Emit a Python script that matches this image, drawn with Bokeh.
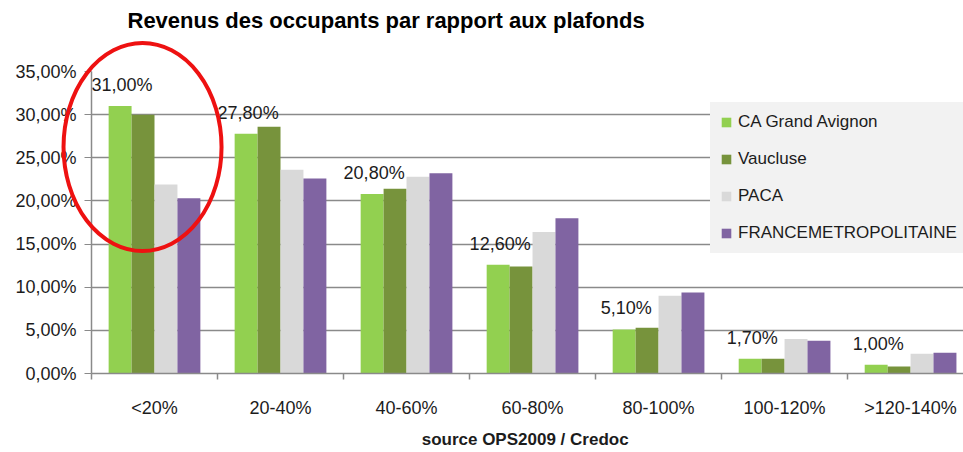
from bokeh.plotting import figure
from bokeh.models import (FixedTicker, Range1d, Legend, LegendItem, Title,
                          ColumnDataSource)
from bokeh.core.properties import value
from bokeh.embed import file_html
from bokeh.resources import INLINE

# ---- data ----
categories = ["<20%", "20-40%", "40-60%", "60-80%", "80-100%", "100-120%", ">120-140%"]
series_names = ["CA Grand Avignon", "Vaucluse", "PACA", "FRANCEMETROPOLITAINE"]
ca_grand_avignon = [31.0, 27.8, 20.8, 12.6, 5.1, 1.7, 1.0]
vaucluse = [30.0, 28.6, 21.4, 12.4, 5.3, 1.7, 0.8]
paca = [21.9, 23.6, 22.8, 16.4, 9.0, 4.0, 2.3]
france_metro = [20.3, 22.6, 23.2, 18.0, 9.4, 3.8, 2.4]
y_ticks = [0, 5, 10, 15, 20, 25, 30, 35]
y_tick_labels = ["0,00%", "5,00%", "10,00%", "15,00%", "20,00%", "25,00%", "30,00%", "35,00%"]
series_values = [ca_grand_avignon, vaucluse, paca, france_metro]
title_text = "Revenus des occupants par rapport aux plafonds"
source_text = "source OPS2009 /  Credoc"

# ---- style ----
colors = ["#92d050", "#77933c", "#d9d9d9", "#8064a2"]
offsets = [-0.273, -0.091, 0.091, 0.273]
bar_w = 0.182
FONT = "'Liberation Sans', Arial, sans-serif"
TXT = "#1c1c1c"
GRID = "#8a8a8a"

n = len(categories)
centers = [i + 0.5 for i in range(n)]
bounds = list(range(n + 1))

p = figure(width=963, height=452, output_backend="svg", toolbar_location=None,
           title=None,
           x_range=Range1d(0, 6.92), y_range=Range1d(0, 35),
           min_border_left=91, min_border_right=0, min_border_top=71,
           min_border_bottom=79)
p.outline_line_color = None
p.background_fill_color = "white"
p.border_fill_color = "white"

# title: spacer (nearest the frame) then the real title above it
p.add_layout(Title(text=" ", text_font=FONT, text_font_size="24px", standoff=10), "above")
p.add_layout(Title(text=title_text, text_font=FONT, text_font_size="22px",
                   text_font_style="bold", text_color="#000000",
                   align="left", offset=36, standoff=0), "above")

renderers = []
for vals, off, col in zip(series_values, offsets, colors):
    xs = [c + off for c in centers]
    r = p.vbar(x=xs, top=vals, width=bar_w, bottom=0, fill_color=col, line_color=None)
    renderers.append(r)

# value labels above first series
lab_src = ColumnDataSource(dict(
    x=[c + offsets[0] for c in centers],
    y=ca_grand_avignon,
    t=[("%.2f%%" % v).replace(".", ",") for v in ca_grand_avignon]))
p.text(x="x", y="y", text="t", source=lab_src, text_align="center",
       text_baseline="middle", x_offset=2, y_offset=-21,
       text_font=value(FONT), text_font_size="18px", text_color=TXT)

# axes
p.yaxis.ticker = FixedTicker(ticks=y_ticks)
p.yaxis.major_label_overrides = {t: l for t, l in zip(y_ticks, y_tick_labels)}
p.yaxis.major_label_text_font = FONT
p.yaxis.major_label_text_font_size = "18px"
p.yaxis.major_label_text_color = TXT
p.yaxis.major_tick_out = 7
p.yaxis.major_tick_in = 0
p.yaxis.minor_tick_out = 0
p.yaxis.minor_tick_in = 0
p.yaxis.major_label_standoff = 8
p.yaxis.axis_line_color = GRID
p.yaxis.major_tick_line_color = GRID
p.yaxis.axis_line_width = 1.5

p.xaxis.ticker = FixedTicker(ticks=centers, minor_ticks=bounds)
p.xaxis.major_label_overrides = {c: l for c, l in zip(centers, categories)}
p.xaxis.major_label_text_font = FONT
p.xaxis.major_label_text_font_size = "18px"
p.xaxis.major_label_text_color = TXT
p.xaxis.major_tick_out = 0
p.xaxis.major_tick_in = 0
p.xaxis.minor_tick_out = 6
p.xaxis.minor_tick_in = 0
p.xaxis.minor_tick_line_color = GRID
p.xaxis.minor_tick_line_width = 1.5
p.xaxis.major_label_standoff = 18
p.xaxis.axis_line_color = GRID
p.xaxis.axis_line_width = 1.5
p.xaxis.axis_label = source_text
p.xaxis.axis_label_text_font = FONT
p.xaxis.axis_label_text_font_size = "17px"
p.xaxis.axis_label_text_font_style = "bold"
p.xaxis.axis_label_text_color = TXT
p.xaxis.axis_label_standoff = 9

p.xgrid.grid_line_color = None
p.ygrid.ticker = FixedTicker(ticks=y_ticks)
p.ygrid.grid_line_color = GRID
p.ygrid.grid_line_width = 1.3

# legend (padding only applies when a border colour is set)
legend = Legend(items=[LegendItem(label=nm, renderers=[r]) for nm, r in zip(series_names, renderers)],
                location=(619, 120), orientation="vertical",
                background_fill_color="#f2f2f2", background_fill_alpha=1.0,
                border_line_color="#f2f2f2", border_line_width=1,
                padding=9, margin=0,
                glyph_width=12, glyph_height=12, label_standoff=6,
                label_height=20, spacing=17,
                label_text_font=FONT, label_text_font_size="17px",
                label_text_color=TXT)
p.add_layout(legend, "center")

# red highlight ellipse, drawn at overlay level
ELL_X, ELL_Y, ELL_W, ELL_H = 0.405, 26.25, 1.254, 24.1
p.ellipse(x=[ELL_X], y=[ELL_Y], width=ELL_W, height=ELL_H,
          fill_color=None, line_color="#ee1111", line_width=4, level="overlay")

open("out.html", "w").write(file_html(p, INLINE))
